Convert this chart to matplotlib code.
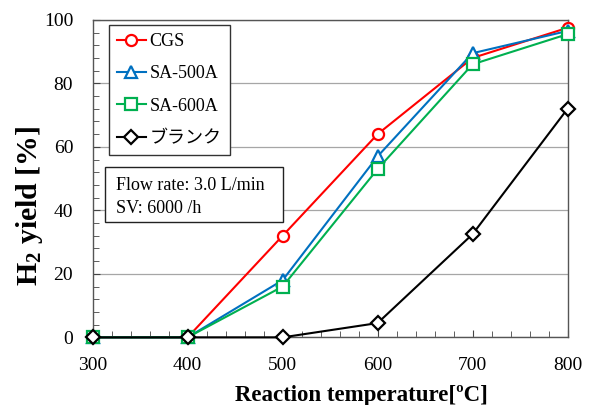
import matplotlib

matplotlib.use("Agg")

import matplotlib.pyplot as plt
from matplotlib.patches import Rectangle
from matplotlib.ticker import MultipleLocator

temps = [300, 400, 500, 600, 700, 800]
cgs = [0, 0, 32, 64, 88, 97.5]
sa500 = [0, 0, 18, 57, 89.5, 96.5]
sa600 = [0, 0, 16, 53, 86, 95.5]
blank = [0, 0, 0, 4.5, 32.5, 72]

labels = ["CGS", "SA-500A", "SA-600A", "ブランク"]

plt.rcParams["font.family"] = ["Liberation Serif", "Noto Sans CJK JP"]
plt.rcParams["mathtext.fontset"] = "custom"
plt.rcParams["mathtext.rm"] = "Liberation Serif"
plt.rcParams["mathtext.bf"] = "Liberation Serif:bold"

fig = plt.figure(figsize=(5.9, 4.05), dpi=100)
# axes spans x 92.7..567.7 px, y 20..337.3 px
ax = fig.add_axes([0.157, 0.167, 0.805, 0.784])

series = [
    (cgs, "#ff0000", "o", 8),
    (sa500, "#0070c0", "^", 8.5),
    (sa600, "#00b050", "s", 8),
    (blank, "#000000", "D", 7),
]
for (vals, color, marker, ms), label in zip(series, labels):
    ax.plot(temps, vals, color=color, marker=marker, markersize=ms,
            markerfacecolor="white", markeredgecolor=color, markeredgewidth=1.6,
            linewidth=1.5, label=label, clip_on=False, zorder=3)

ax.set_xlim(300, 800)
ax.set_ylim(0, 100)
ax.xaxis.set_major_locator(MultipleLocator(100))
ax.xaxis.set_minor_locator(MultipleLocator(20))
ax.yaxis.set_major_locator(MultipleLocator(20))
ax.yaxis.set_minor_locator(MultipleLocator(4))
ax.tick_params(which="both", direction="in", top=False, right=False, labelsize=14, color="#444444")
ax.tick_params(which="major", length=5)
ax.tick_params(which="minor", length=4)
ax.tick_params(axis="y", which="major", pad=14)
ax.tick_params(axis="x", which="major", pad=14)
ax.grid(axis="y", which="major", color="#a6a6a6", linewidth=0.9)
for s in ax.spines.values():
    s.set_color("#555555")
    s.set_linewidth(1.0)

ax.set_xlabel("Reaction temperature[ºC]", fontsize=16.5, fontweight="bold", labelpad=8)
ax.xaxis.label.set_x(0.565)
ax.set_ylabel(r"$\mathbf{H_2}$ yield [%]", fontsize=21.5, fontweight="bold")
ax.yaxis.set_label_coords(-0.101, 0.416)

leg = ax.legend(loc="upper left", bbox_to_anchor=(0.034, 0.984), fontsize=13, frameon=True,
                fancybox=False, edgecolor="#333333", framealpha=1, handlelength=1.6,
                handletextpad=0.2, borderpad=0.45, labelspacing=0.85, borderaxespad=0)
leg.get_frame().set_linewidth(1.0)

ax.add_patch(Rectangle((0.026, 0.363), 0.375, 0.173, transform=ax.transAxes,
                       facecolor="white", edgecolor="#222222", linewidth=1.0, zorder=4))
ax.text(0.049, 0.442, "Flow rate: 3.0 L/min\nSV: 6000 /h", transform=ax.transAxes,
        fontsize=13, va="center", ha="left", linespacing=1.4, zorder=5)

fig.savefig("out.png", dpi=100)
